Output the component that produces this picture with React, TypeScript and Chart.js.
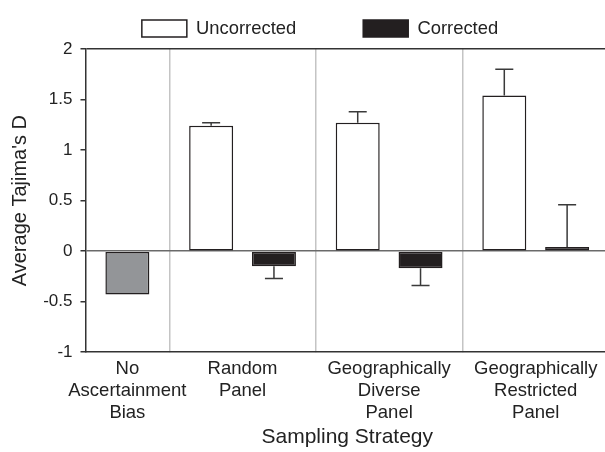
import { useEffect, useRef } from 'react';
import { Chart, registerables } from 'chart.js';

Chart.register(...registerables);

// ---- data ----
const categories: string[][] = [
  ['No', 'Ascertainment', 'Bias'],
  ['Random', 'Panel'],
  ['Geographically', 'Diverse', 'Panel'],
  ['Geographically', 'Restricted', 'Panel'],
];
const noBiasValues: (number | null)[] = [-0.43, null, null, null];
const uncorrectedValues: (number | null)[] = [null, 1.24, 1.27, 1.54];
const uncorrectedErrors: (number | null)[] = [null, 0.03, 0.11, 0.26];
const correctedValues: (number | null)[] = [null, -0.15, -0.17, 0.04];
const correctedErrors: (number | null)[] = [null, 0.12, 0.17, 0.42];
const yMin = -1;
const yMax = 2;
const yStep = 0.5;

// ---- layout rule: each category is as wide as its bars plus a gap ----
const GAP = 1 / 3;
const seriesValues = [noBiasValues, uncorrectedValues, correctedValues];
const barsIn = categories.map((_, i) => seriesValues.filter((s) => s[i] != null).length);
const starts: number[] = [];
let acc = 0;
barsIn.forEach((n) => {
  starts.push(acc);
  acc += n + GAP;
});
const total = acc;
const centers = starts.map((s, i) => s + (barsIn[i] + GAP) / 2);
const bounds = starts.slice(1);

function slotX(seriesIdx: number, catIdx: number) {
  const present = seriesValues.map((_, k) => k).filter((k) => seriesValues[k][catIdx] != null);
  return starts[catIdx] + GAP / 2 + 0.5 + present.indexOf(seriesIdx);
}
function points(sIdx: number, values: (number | null)[], errors: (number | null)[] | null) {
  return values
    .map((v, i) => (v == null ? null : { x: slotX(sIdx, i), y: v, err: errors ? errors[i] : null }))
    .filter((p) => p !== null) as { x: number; y: number; err: number | null }[];
}

const errorBarPlugin = {
  id: 'errorBars',
  afterDatasetsDraw(chart: any) {
    const ctx = chart.ctx;
    const yScale = chart.scales.y;
    chart.data.datasets.forEach((ds: any, di: number) => {
      const meta = chart.getDatasetMeta(di);
      meta.data.forEach((el: any, i: number) => {
        const p = ds.data[i];
        if (!p || p.err == null) return;
        const dir = p.y >= 0 ? 1 : -1;
        const y0 = yScale.getPixelForValue(p.y);
        const y1 = yScale.getPixelForValue(p.y + dir * p.err);
        const half = el.width * 0.205;
        ctx.save();
        ctx.strokeStyle = '#3a3a3a';
        ctx.lineWidth = 1.5;
        ctx.beginPath();
        ctx.moveTo(el.x, y0);
        ctx.lineTo(el.x, y1);
        ctx.moveTo(el.x - half, y1);
        ctx.lineTo(el.x + half, y1);
        ctx.stroke();
        ctx.restore();
      });
    });
  },
};

export default function App() {
  const ref = useRef<HTMLCanvasElement | null>(null);

  useEffect(() => {
    if (!ref.current) return;
    Chart.defaults.font.family = "'Liberation Sans', Arial, sans-serif";
    const chart = new Chart(ref.current, {
      type: 'bar',
      data: {
        datasets: [
          {
            label: 'No Ascertainment Bias',
            data: points(0, noBiasValues, null),
            backgroundColor: '#939598',
            borderColor: '#231f20',
            borderWidth: 1.5,
            borderSkipped: false,
            grouped: false,
          },
          {
            label: 'Uncorrected',
            data: points(1, uncorrectedValues, uncorrectedErrors),
            backgroundColor: '#ffffff',
            borderColor: '#231f20',
            borderWidth: 1.5,
            borderSkipped: false,
            grouped: false,
          },
          {
            label: 'Corrected',
            data: points(2, correctedValues, correctedErrors),
            backgroundColor: '#231f20',
            borderColor: '#231f20',
            borderWidth: 1.5,
            borderSkipped: false,
            grouped: false,
          },
        ] as any,
      },
      options: {
        animation: false,
        responsive: true,
        maintainAspectRatio: false,
        categoryPercentage: 1,
        barPercentage: 0.7,
        layout: { padding: { left: 31, right: 11, top: -47.7, bottom: 0 } },
        plugins: {
          legend: {
            position: 'top',
            labels: {
              boxWidth: 45,
              boxHeight: 17,
              padding: 67,
              color: '#222',
              font: { size: 18.4 },
              filter: (item: any) => item.text !== 'No Ascertainment Bias',
            },
          },
          tooltip: { enabled: false },
        },
        scales: {
          x: {
            type: 'linear',
            position: 'bottom',
            min: 0,
            max: total,
            offset: false,
            afterBuildTicks: (s: any) => {
              s.ticks = centers.map((v) => ({ value: v }));
            },
            ticks: {
              callback: (_v: any, i: number) => categories[i],
              autoSkip: false,
              maxRotation: 0,
              minRotation: 0,
              padding: 5.8,
              color: '#222',
              font: { size: 18.5, lineHeight: 1.18 },
            },
            grid: { display: false, offset: false, drawTicks: false },
            border: { display: true, color: '#333', width: 1.5 },
            title: {
              display: true,
              text: 'Sampling Strategy',
              color: '#222',
              font: { size: 21 },
              padding: { top: -4.9, bottom: 2.4 },
            },
          },
          x2: {
            type: 'linear',
            position: 'top',
            min: 0,
            max: total,
            offset: false,
            afterBuildTicks: (s: any) => {
              s.ticks = bounds.map((v) => ({ value: v }));
            },
            ticks: { display: false },
            grid: {
              color: '#c4c4c4',
              lineWidth: 1.5,
              drawTicks: true,
              tickLength: 1.3,
              tickColor: 'rgba(0,0,0,0)',
              offset: false,
            },
            border: { display: false },
          },
          y: {
            min: yMin,
            max: yMax,
            ticks: {
              stepSize: yStep,
              color: '#222',
              font: { size: 17 },
              padding: 8,
              callback: (v: any) => String(Number(v)),
            },
            grid: {
              color: (c: any) =>
                c.tick && c.tick.value === 0
                  ? '#6a6a6a'
                  : c.tick && c.tick.value === yMax
                  ? '#333'
                  : 'rgba(0,0,0,0)',
              lineWidth: 1.5,
              tickColor: '#333',
              tickLength: 5,
              tickWidth: 1.5,
              drawTicks: true,
            },
            border: { display: true, color: '#333', width: 1.5 },
            title: {
              display: true,
              text: "Average Tajima's D",
              color: '#222',
              font: { size: 20 },
              padding: { top: -22.5, bottom: 2.7 },
            },
          },
        },
      } as any,
      plugins: [errorBarPlugin],
    });
    return () => chart.destroy();
  }, []);

  return (
    <div
      style={{
        position: 'fixed',
        left: 0,
        top: 0,
        width: 605,
        height: 452,
        overflow: 'hidden',
        background: '#fff',
      }}
    >
      <div style={{ position: 'relative', width: 620, height: 452 }}>
        <canvas ref={ref} />
      </div>
    </div>
  );
}
